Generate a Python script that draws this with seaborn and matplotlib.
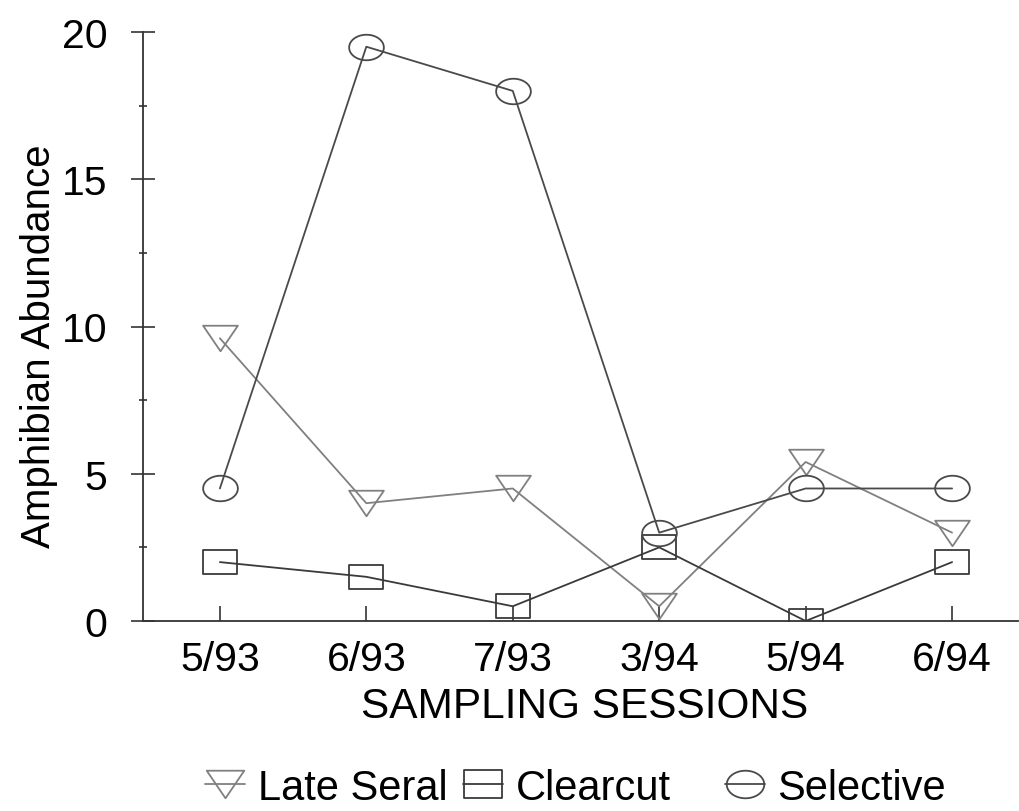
import matplotlib
matplotlib.use("Agg")
import matplotlib.pyplot as plt
import seaborn as sns
import numpy as np
from matplotlib.path import Path
from matplotlib.lines import Line2D

sessions = ["5/93", "6/93", "7/93", "3/94", "5/94", "6/94"]
late_seral = [9.6, 4.0, 4.5, 0.5, 5.4, 3.0]
clearcut = [2.0, 1.5, 0.5, 2.5, 0.0, 2.0]
selective = [4.5, 19.5, 18.0, 3.0, 4.5, 4.5]
series_names = ["Late Seral", "Clearcut", "Selective"]

sns.set_theme(style="white")
plt.rcParams["font.family"] = ["Liberation Sans", "DejaVu Sans"]
plt.rcParams["text.color"] = "black"
plt.rcParams["axes.labelcolor"] = "black"
plt.rcParams["xtick.color"] = "black"
plt.rcParams["ytick.color"] = "black"

# wide (horizontally stretched) marker shapes
t = np.linspace(0, 2 * np.pi, 60)
ellipse = Path(np.column_stack([0.68 * np.cos(t), 0.5 * np.sin(t)]), closed=True)
rect = Path([(-0.7, -0.5), (0.7, -0.5), (0.7, 0.5), (-0.7, 0.5), (-0.7, -0.5)], closed=True)
tri = Path([(-0.68, 0.5), (0.68, 0.5), (0.0, -0.5), (-0.68, 0.5)], closed=True)

fig = plt.figure(figsize=(10.19, 8.12), dpi=100)
ax = fig.add_axes([143 / 1019, 1 - 622 / 812, (1018 - 143) / 1019, (622 - 33) / 812])

styles = [
    (late_seral, tri, "#808080"),
    (clearcut, rect, "#3a3a3a"),
    (selective, ellipse, "#4a4a4a"),
]
for vals, mk, col in styles:
    sns.lineplot(x=sessions, y=vals, ax=ax, color=col, marker=mk, markersize=25,
                 markerfacecolor="none", markeredgecolor=col, markeredgewidth=1.3,
                 linewidth=1.3, sort=False)

ax.set_ylim(0, 20)
ax.set_xlim(-0.525, 5.45)
ax.set_yticks([0, 5, 10, 15, 20])
ax.set_yticks([2.5, 7.5, 12.5, 17.5], minor=True)
ax.tick_params(axis="y", which="major", direction="inout", length=17, width=1.2,
               labelsize=29.5, pad=17, left=True, color="#333333")
ax.tick_params(axis="y", which="minor", direction="inout", length=6, width=1.2,
               left=True, color="#333333")
ax.tick_params(axis="x", which="major", direction="in", length=11, width=1.2,
               labelsize=29.5, pad=14, bottom=True, color="#333333")
for s in ["top", "right"]:
    ax.spines[s].set_visible(False)
for s in ["left", "bottom"]:
    ax.spines[s].set_color("#333333")
    ax.spines[s].set_linewidth(1.3)
ax.set_xlabel("SAMPLING SESSIONS", fontsize=30.5)
ax.set_ylabel("Amphibian Abundance", fontsize=29)
ax.xaxis.set_label_coords((585 - 143) / 875, (622 - 687) / 589)
ax.yaxis.set_label_coords((58 - 143) / 875, (622 - 346) / 589)
ax.grid(False)

leg_markers = [(tri, 27), (rect, 28), (ellipse, 27)]
leg_x = [205, 463, 725]
for (vals, mk, col), (lm, ms), name, x0 in zip(styles, leg_markers, series_names, leg_x):
    h = Line2D([], [], color=col, marker=lm, markersize=ms, markerfacecolor="none",
               markeredgecolor=col, markeredgewidth=1.3, linewidth=1.3)
    leg = fig.legend([h], [name], loc="center left", bbox_to_anchor=(x0 / 1019, 1 - 789 / 812),
                     frameon=False, fontsize=30, handlelength=0.96, handletextpad=0.3,
                     borderpad=0, borderaxespad=0)

fig.savefig("out.png", dpi=100)
